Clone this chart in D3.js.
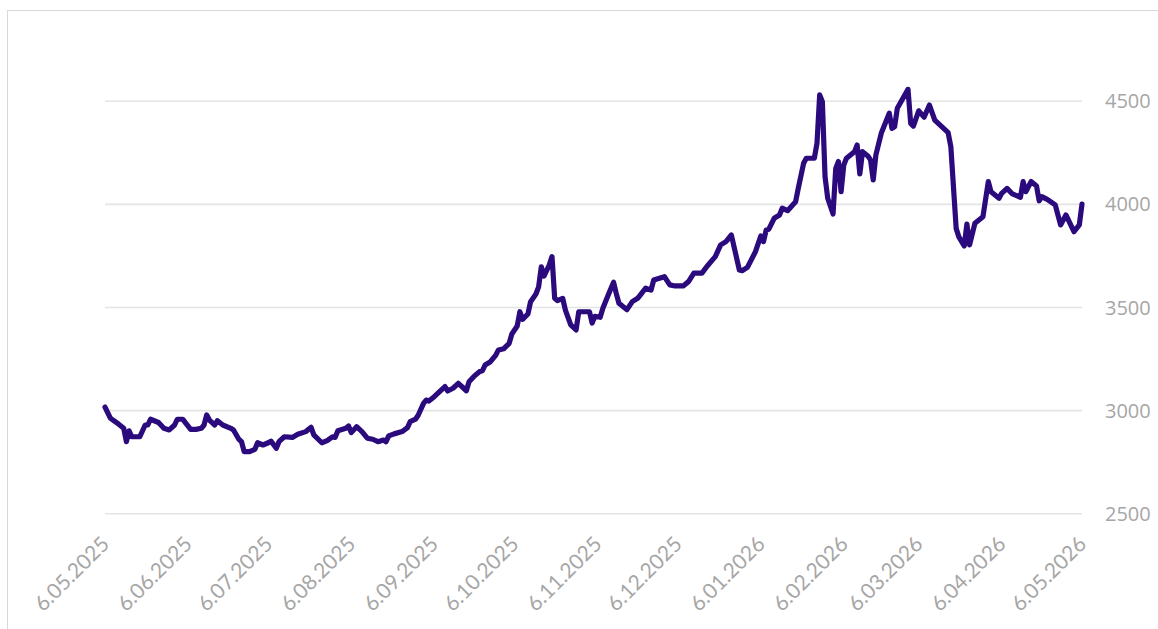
<!DOCTYPE html>
<html>
<head>
<meta charset="utf-8">
<script src="https://cdn.jsdelivr.net/npm/d3@7/dist/d3.min.js"></script>
<style>
  html, body { margin: 0; padding: 0; background: #fff; }
  svg { display: block; }
</style>
</head>
<body>
<svg id="chart" width="1158" height="629"></svg>
<script>
// ---- Data ----
const dates = [
"2025-05-06","2025-05-08","2025-05-09","2025-05-11","2025-05-13","2025-05-14","2025-05-15","2025-05-16","2025-05-19","2025-05-21","2025-05-22","2025-05-23","2025-05-26","2025-05-28","2025-05-30",
"2025-06-01","2025-06-02","2025-06-04","2025-06-07","2025-06-09","2025-06-11","2025-06-12","2025-06-13","2025-06-14","2025-06-16","2025-06-17","2025-06-19","2025-06-22","2025-06-23","2025-06-25","2025-06-26","2025-06-27","2025-06-29",
"2025-07-01","2025-07-02","2025-07-04","2025-07-06","2025-07-07","2025-07-09","2025-07-10","2025-07-12","2025-07-15","2025-07-17","2025-07-20","2025-07-22","2025-07-23","2025-07-26","2025-07-28","2025-07-30","2025-07-31",
"2025-08-01","2025-08-04","2025-08-05","2025-08-06","2025-08-08","2025-08-10","2025-08-12","2025-08-14","2025-08-16","2025-08-18","2025-08-19","2025-08-20","2025-08-22","2025-08-25","2025-08-27","2025-08-28","2025-08-30","2025-08-31",
"2025-09-02","2025-09-03","2025-09-04","2025-09-06","2025-09-08","2025-09-10","2025-09-11","2025-09-13","2025-09-15","2025-09-17","2025-09-18","2025-09-19","2025-09-21","2025-09-23","2025-09-24","2025-09-25","2025-09-27","2025-09-29","2025-09-30",
"2025-10-02","2025-10-04","2025-10-05","2025-10-07","2025-10-08","2025-10-09","2025-10-11","2025-10-12","2025-10-14","2025-10-15","2025-10-16","2025-10-17","2025-10-19","2025-10-20","2025-10-21","2025-10-22","2025-10-24","2025-10-25","2025-10-27","2025-10-29","2025-10-30",
"2025-11-03","2025-11-04","2025-11-05","2025-11-07","2025-11-08","2025-11-10","2025-11-12","2025-11-13","2025-11-14","2025-11-17","2025-11-19","2025-11-21","2025-11-24","2025-11-26","2025-11-27",
"2025-12-01","2025-12-03","2025-12-05","2025-12-08","2025-12-10","2025-12-12","2025-12-15","2025-12-17","2025-12-20","2025-12-22","2025-12-24","2025-12-26","2025-12-29","2025-12-30",
"2026-01-01","2026-01-04","2026-01-06","2026-01-07","2026-01-08","2026-01-09","2026-01-11","2026-01-13","2026-01-14","2026-01-16","2026-01-19","2026-01-20","2026-01-22","2026-01-23","2026-01-26","2026-01-27","2026-01-28","2026-01-29","2026-01-30","2026-01-31",
"2026-02-02","2026-02-03","2026-02-04","2026-02-05","2026-02-06","2026-02-07","2026-02-10","2026-02-11","2026-02-12","2026-02-13","2026-02-15","2026-02-16","2026-02-17","2026-02-18","2026-02-20","2026-02-23","2026-02-24","2026-02-25","2026-02-26",
"2026-03-02","2026-03-03","2026-03-04","2026-03-06","2026-03-08","2026-03-10","2026-03-12","2026-03-17","2026-03-18","2026-03-20","2026-03-21","2026-03-23","2026-03-24","2026-03-25","2026-03-27","2026-03-30",
"2026-04-01","2026-04-02","2026-04-05","2026-04-06","2026-04-08","2026-04-10","2026-04-13","2026-04-14","2026-04-15","2026-04-17","2026-04-19","2026-04-20","2026-04-21","2026-04-23","2026-04-26","2026-04-28","2026-04-30",
"2026-05-03","2026-05-05","2026-05-06"
];

const values = [
3015,2961,2952,2933,2912,2847,2900,2871,2871,2928,2928,2956,2940,2912,2904,
2928,2956,2956,2907,2907,2912,2928,2977,2952,2928,2949,2928,2912,2904,2859,2847,2799,2799,
2810,2842,2831,2842,2850,2815,2847,2871,2868,2883,2896,2917,2880,2842,2852,2871,2868,
2900,2912,2923,2891,2920,2896,2864,2859,2847,2855,2847,2875,2885,2896,2915,2944,2956,2975,
3033,3049,3044,3065,3090,3114,3093,3106,3130,3106,3094,3138,3166,3187,3191,3219,3235,3267,3292,
3298,3324,3369,3408,3477,3440,3466,3526,3563,3598,3695,3650,3704,3744,3542,3531,3542,3485,3413,3389,3477,
3477,3422,3455,3450,3494,3558,3620,3566,3518,3487,3526,3542,3591,3582,3631,
3647,3607,3602,3602,3623,3664,3664,3699,3744,3801,3817,3849,3679,3676,
3692,3768,3844,3817,3873,3877,3930,3946,3979,3967,4010,4075,4197,4221,4221,4294,4528,4495,4132,4027,
3951,4172,4205,4059,4188,4221,4253,4285,4145,4253,4232,4213,4116,4237,4342,4439,4366,4374,4463,
4555,4390,4377,4451,4420,4479,4406,4345,4277,3880,3840,3796,3902,3801,3906,3938,
4108,4059,4027,4051,4075,4048,4032,4108,4059,4108,4087,4015,4035,4022,3995,3898,3946,
3865,3898,3999
];

const xTickDates = [
"2025-05-06","2025-06-06","2025-07-06","2025-08-06","2025-09-06","2025-10-06",
"2025-11-06","2025-12-06","2026-01-06","2026-02-06","2026-03-06","2026-04-06","2026-05-06"
];
const yTicks = [2500, 3000, 3500, 4000, 4500];

// ---- Setup ----
const parse = d3.timeParse("%Y-%m-%d");
const data = dates.map((d, i) => ({ date: parse(d), value: values[i] }));

const svg = d3.select("#chart");
const plotLeft = 105, plotRight = 1082, plotTop = 100.7, plotBottom = 513.3;

// outer chart border
svg.append("rect")
  .attr("x", 7.5).attr("y", 10.5)
  .attr("width", 1170).attr("height", 640)
  .attr("fill", "none")
  .attr("stroke", "#d9d9d9")
  .attr("stroke-width", 1);

const x = d3.scaleTime()
  .domain([parse(xTickDates[0]), parse(xTickDates[xTickDates.length - 1])])
  .range([plotLeft, plotRight]);

const y = d3.scaleLinear()
  .domain([2500, 4500])
  .range([plotBottom, plotTop]);

// gridlines
const grid = svg.append("g")
  .attr("transform", `translate(${plotLeft},0)`)
  .call(d3.axisLeft(y).tickValues(yTicks).tickSize(-(plotRight - plotLeft)).tickFormat(""));
grid.select(".domain").remove();
grid.selectAll("line").attr("stroke", "#e4e4e4").attr("stroke-width", 1.6);

// y axis labels (right)
const yAxis = svg.append("g")
  .attr("transform", `translate(${plotRight},0)`)
  .call(d3.axisRight(y).tickValues(yTicks).tickSize(0).tickPadding(23).tickFormat(d3.format("d")));
yAxis.select(".domain").remove();
yAxis.selectAll("text")
  .attr("fill", "#a6a6a6")
  .attr("font-family", "'Open Sans', sans-serif")
  .attr("font-size", "20px")
  .attr("dy", "0.35em");

// x axis labels (rotated)
const fmt = d3.timeFormat("%-d.%m.%Y");
const xAxis = svg.append("g")
  .attr("transform", `translate(0,${plotBottom})`)
  .call(d3.axisBottom(x).tickValues(xTickDates.map(parse)).tickSize(0).tickFormat(fmt));
xAxis.select(".domain").remove();
xAxis.selectAll("text")
  .attr("fill", "#a6a6a6")
  .attr("font-family", "Lato, 'Open Sans', sans-serif")
  .attr("font-size", "21px")
  .attr("x", 0).attr("y", 0).attr("dy", 0)
  .attr("text-anchor", "end")
  .attr("transform", "translate(5,32) rotate(-45)");

// line
const line = d3.line()
  .x(d => x(d.date))
  .y(d => y(d.value));

svg.append("path")
  .datum(data)
  .attr("d", line)
  .attr("fill", "none")
  .attr("stroke", "#2a0a7c")
  .attr("stroke-width", 5.2)
  .attr("stroke-linejoin", "round")
  .attr("stroke-linecap", "round");
</script>
</body>
</html>
